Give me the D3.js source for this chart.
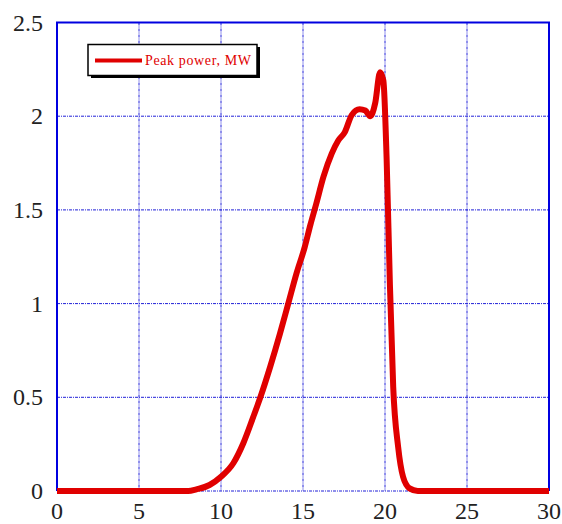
<!DOCTYPE html>
<html>
<head>
<meta charset="utf-8">
<script src="https://cdn.jsdelivr.net/npm/d3@7"></script>
<style>
  body { margin: 0; background: #fff; }
</style>
</head>
<body>
<div id="chart"></div>
<script>
const xTicks = [0, 5, 10, 15, 20, 25, 30];
const yTicks = [0, 0.5, 1, 1.5, 2, 2.5];
const yTickLabels = ["0", "0.5", "1", "1.5", "2", "2.5"];
const seriesName = "Peak power, MW";

// time axis and peak power
const timeVals = [0, 4, 8.0, 8.5, 9.3, 10.0, 10.75, 11.36, 11.97, 12.4, 13.0, 13.6, 14.1, 14.6,
                  15.1, 15.45, 15.8, 16.25, 16.75, 17.15, 17.55, 17.97, 18.45, 18.8, 19.1, 19.4,
                  19.7, 19.9, 20.1, 20.3, 20.5, 20.8, 21.1, 21.5, 22.0, 26, 30];
const powerVals = [0, 0, 0, 0.009, 0.032, 0.076, 0.148, 0.255, 0.396, 0.5, 0.663, 0.841, 1.0, 1.16,
                   1.3, 1.42, 1.53, 1.677, 1.8, 1.87, 1.915, 2.006, 2.037, 2.03, 2.0, 2.069,
                   2.235, 2.19, 1.77, 1.1, 0.557, 0.236, 0.076, 0.014, 0, 0, 0];

const data = timeVals.map((t, i) => ({t, p: powerVals[i]}));

const serif = "'Liberation Serif', 'Times New Roman', 'DejaVu Serif', serif";

const W = 562, H = 524;
const margin = {top: 22.5, right: 13, bottom: 33, left: 57};
const width = W - margin.left - margin.right,
      height = H - margin.top - margin.bottom;

const svg = d3.select("#chart").append("svg")
  .attr("width", W).attr("height", H);

const g = svg.append("g")
  .attr("transform", `translate(${margin.left},${margin.top})`);

const x = d3.scaleLinear().domain([0, 30]).range([0, width]);
const y = d3.scaleLinear().domain([0, 2.5]).range([height, 0]);

// grid lines
g.selectAll(".vgrid")
  .data(xTicks.slice(1, -1))
  .enter().append("line")
  .attr("x1", d => x(d)).attr("x2", d => x(d))
  .attr("y1", 0).attr("y2", height)
  .attr("stroke", "#2020d8").attr("stroke-width", 1)
  .attr("stroke-dasharray", "3,1,1,1");

g.selectAll(".hgrid")
  .data(yTicks.slice(0, -1))
  .enter().append("line")
  .attr("x1", 0).attr("x2", width)
  .attr("y1", d => y(d)).attr("y2", d => y(d))
  .attr("stroke", "#2020d8").attr("stroke-width", 1)
  .attr("stroke-dasharray", "3,1,1,1");

// frame: left, top, right solid
g.append("path")
  .attr("d", `M0,${height}V0H${width}V${height}`)
  .attr("fill", "none")
  .attr("stroke", "#0000e0")
  .attr("stroke-width", 2);

// tick labels
svg.selectAll(".ylab")
  .data(yTicks)
  .enter().append("text")
  .attr("x", 43)
  .attr("y", d => margin.top + y(d) + 8)
  .attr("text-anchor", "end")
  .attr("font-family", serif)
  .attr("font-size", 24)
  .attr("fill", "#222")
  .text((d, i) => yTickLabels[i]);

svg.selectAll(".xlab")
  .data(xTicks)
  .enter().append("text")
  .attr("x", d => margin.left + x(d))
  .attr("y", 519)
  .attr("text-anchor", "middle")
  .attr("font-family", serif)
  .attr("font-size", 24)
  .attr("fill", "#222")
  .text(d => d);

// curve
const line = d3.line()
  .x(d => x(d.t))
  .y(d => y(d.p))
  .curve(d3.curveMonotoneX);

g.append("path")
  .datum(data)
  .attr("d", line)
  .attr("fill", "none")
  .attr("stroke", "#e00000")
  .attr("stroke-width", 6)
  .attr("stroke-linejoin", "round");

// legend
const lg = svg.append("g");
lg.append("rect")
  .attr("x", 91).attr("y", 47)
  .attr("width", 169).attr("height", 31)
  .attr("fill", "#000");
lg.append("rect")
  .attr("x", 88).attr("y", 44.5)
  .attr("width", 169).attr("height", 31)
  .attr("fill", "#fff")
  .attr("stroke", "#000")
  .attr("stroke-width", 1.5);
lg.append("line")
  .attr("x1", 95).attr("x2", 142)
  .attr("y1", 60.5).attr("y2", 60.5)
  .attr("stroke", "#e00000")
  .attr("stroke-width", 4);
lg.append("text")
  .attr("x", 145).attr("y", 65)
  .attr("font-family", serif)
  .attr("font-size", 14)
  .attr("fill", "#e00000")
  .attr("textLength", 106)
  .text(seriesName);
</script>
</body>
</html>
